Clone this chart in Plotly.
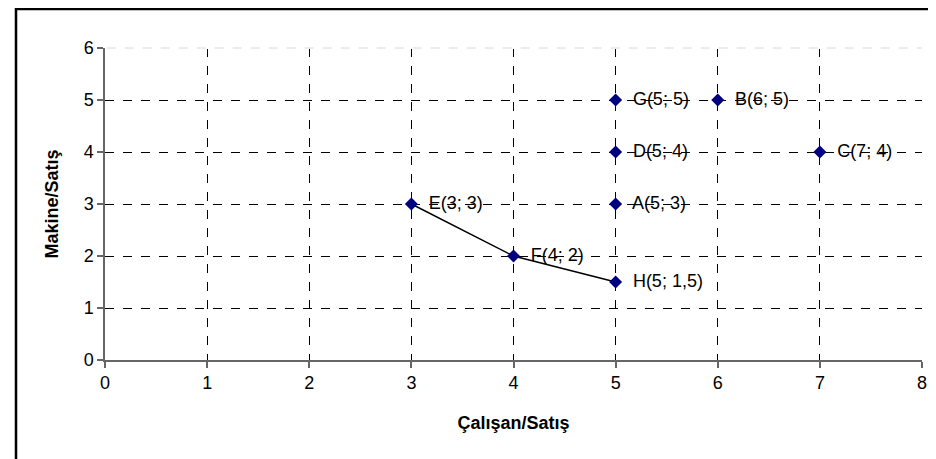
import plotly.graph_objects as go

# Data
point_names = ["A", "B", "C", "D", "E", "F", "G", "H"]
calisan = [5, 6, 7, 5, 3, 4, 5, 5]
makine = [3, 5, 4, 4, 3, 2, 5, 1.5]
point_labels = ["A(5; 3)", "B(6; 5)", "C(7; 4)", "D(5; 4)", "E(3; 3)", "F(4; 2)", "G(5; 5)", "H(5; 1,5)"]
line_names = ["E", "F", "H"]

x_ticks = [0, 1, 2, 3, 4, 5, 6, 7, 8]
y_ticks = [0, 1, 2, 3, 4, 5, 6]

idx = {n: i for i, n in enumerate(point_names)}
line_x = [calisan[idx[n]] for n in line_names]
line_y = [makine[idx[n]] for n in line_names]

FONT = "Liberation Sans, Arial, sans-serif"

fig = go.Figure()
fig.add_trace(go.Scatter(
    x=line_x, y=line_y, mode="lines",
    line=dict(color="black", width=1.5),
    hoverinfo="skip", showlegend=False,
))
fig.add_trace(go.Scatter(
    x=calisan, y=makine, mode="markers+text",
    text=["  " + t for t in point_labels], textposition="middle right",
    textfont=dict(family=FONT, size=18, color="black"),
    marker=dict(symbol="diamond", size=10, color="#000080"),
    showlegend=False,
))

axis_common = dict(
    showline=True, linecolor="#666666", linewidth=1.5,
    ticks="outside", ticklen=6, tickcolor="#666666", tickwidth=1.5,
    showgrid=True, gridcolor="black", gridwidth=1, griddash="dash",
    zeroline=False, tickfont=dict(family=FONT, size=18, color="black"),
    mirror=False,
)

fig.update_layout(
    width=936, height=459,
    margin=dict(l=97, r=22, t=40, b=107),
    paper_bgcolor="white", plot_bgcolor="white",
    xaxis=dict(range=[0, 8], tickvals=x_ticks, **axis_common,
               title=dict(text="<b>Çalışan/Satış</b>", font=dict(family=FONT, size=18, color="black"), standoff=24)),
    yaxis=dict(range=[0, 6], tickvals=y_ticks, **axis_common,
               title=dict(text="<b>Makine/Satış</b>", font=dict(family=FONT, size=18, color="black"), standoff=20)),
    shapes=[
        # soften the top gridline as in the reference
        dict(type="line", xref="x domain", yref="y domain", x0=0.002, x1=1, y0=1, y1=1,
             line=dict(color="white", width=2), layer="above"),
        dict(type="line", xref="x domain", yref="y domain", x0=0.002, x1=1, y0=1, y1=1,
             line=dict(color="#d8d8d8", width=1, dash="dash"), layer="above"),
        dict(type="rect", xref="paper", yref="paper",
             x0=-89/817, x1=1 + 21/817, y0=-105/312, y1=1 + 39/312,
             line=dict(color="black", width=2.5), layer="above"),
    ],
)

fig.write_html("out.html")
